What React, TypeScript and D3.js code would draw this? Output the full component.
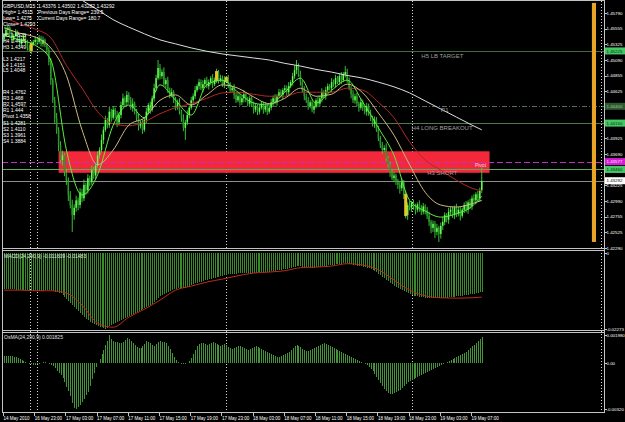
import React from "react";
import * as d3 from "d3";

// ---------------- DATA ----------------
const firstOpen = 1.454;
const closes = [
  1.4546,1.4554,1.4557,1.4548,1.4539,1.4545,1.4551,1.4542,1.4533,1.4539,
  1.4545,1.4536,1.4527,1.4524,1.4533,1.4536,1.4539,1.4536,1.4542,1.4533,
  1.4539,1.4531,1.4524,1.4506,1.4479,1.4449,1.4422,1.4405,1.4382,1.4360,
  1.4367,1.4342,1.4330,1.4308,1.4293,1.4278,1.4289,1.4300,1.4293,1.4312,
  1.4303,1.4323,1.4315,1.4333,1.4327,1.4345,1.4337,1.4352,1.4367,1.4375,
  1.4390,1.4405,1.4420,1.4412,1.4432,1.4423,1.4435,1.4427,1.4416,1.4427,
  1.4442,1.4452,1.4446,1.4457,1.4449,1.4438,1.4444,1.4432,1.4423,1.4411,
  1.4416,1.4405,1.4420,1.4432,1.4442,1.4435,1.4452,1.4467,1.4482,1.4497,
  1.4485,1.4491,1.4473,1.4479,1.4464,1.4457,1.4461,1.4449,1.4440,1.4446,
  1.4432,1.4423,1.4408,1.4416,1.4427,1.4438,1.4449,1.4455,1.4464,1.4470,
  1.4476,1.4467,1.4473,1.4479,1.4470,1.4476,1.4482,1.4473,1.4479,1.4491,
  1.4479,1.4482,1.4473,1.4479,1.4482,1.4472,1.4464,1.4467,1.4457,1.4449,
  1.4455,1.4446,1.4452,1.4458,1.4449,1.4444,1.4452,1.4442,1.4435,1.4440,
  1.4432,1.4438,1.4444,1.4435,1.4440,1.4432,1.4438,1.4446,1.4452,1.4446,
  1.4455,1.4461,1.4457,1.4464,1.4467,1.4461,1.4470,1.4476,1.4485,1.4494,
  1.4500,1.4488,1.4476,1.4464,1.4455,1.4449,1.4440,1.4446,1.4435,1.4440,
  1.4449,1.4444,1.4452,1.4461,1.4455,1.4464,1.4470,1.4467,1.4476,1.4473,
  1.4482,1.4476,1.4485,1.4479,1.4488,1.4491,1.4479,1.4467,1.4458,1.4449,
  1.4455,1.4444,1.4438,1.4446,1.4438,1.4432,1.4440,1.4429,1.4423,1.4414,
  1.4420,1.4405,1.4393,1.4382,1.4375,1.4378,1.4363,1.4353,1.4342,1.4333,
  1.4337,1.4327,1.4323,1.4318,1.4327,1.4308,1.4278,1.4293,1.4289,1.4296,
  1.4291,1.4286,1.4294,1.4289,1.4283,1.4291,1.4286,1.4277,1.4268,1.4259,
  1.4265,1.4253,1.4259,1.4250,1.4262,1.4268,1.4278,1.4271,1.4283,1.4286,
  1.4278,1.4289,1.4280,1.4286,1.4277,1.4286,1.4293,1.4286,1.4297,1.4291,
  1.4303,1.4300,1.4309,1.4303,1.4315,1.4329,
];
const wickUpPips = [
  3,5,4,2,6,3,4,2,5,3, 4,2,3,5,4,3,6,2,4,3, 5,2,3,4,6,3,5,8,4,6, 7,3,5,4,6,8,5,7,4,6,
  5,8,3,6,4,7,5,3,6,4, 8,5,6,3,7,4,5,3,6,4, 5,7,3,6,4,5,8,3,4,6, 3,5,4,6,3,5,4,7,5,12,
  6,4,7,3,5,4,6,3,5,4, 6,3,5,4,7,3,5,4,6,3, 5,4,6,3,5,4,3,6,4,5, 3,5,4,6,3,5,4,3,6,4,
  5,3,4,6,3,5,4,3,5,4, 3,5,4,3,6,4,3,5,4,6, 3,5,4,3,5,4,6,3,5,7, 9,4,5,3,6,4,5,3,4,6,
  3,5,4,6,3,5,4,3,6,4, 5,3,4,6,3,9,5,4,3,6, 4,5,3,6,4,3,5,4,6,3, 5,4,6,3,5,4,7,3,5,4,
  6,3,5,4,6,3,5,4,6,3, 5,4,3,6,4,5,3,4,6,3, 5,4,6,3,5,7,4,3,6,4, 5,3,6,4,5,3,4,6,3,5,
  4,6,3,5,4,20,
];
const wickDnPips = [
  4,3,5,6,3,4,2,5,3,4, 3,5,4,2,6,3,4,5,3,4, 4,3,6,5,7,4,8,6,9,5, 8,6,7,9,5,25,7,6,8,5,
  6,4,7,5,6,4,5,6,3,5, 4,6,3,5,4,6,3,5,7,4, 5,3,6,4,5,3,6,4,5,7, 4,6,3,5,4,6,3,5,4,3,
  5,4,3,6,4,5,3,4,6,5, 4,6,5,18,4,5,3,6,4,3, 5,3,6,4,3,5,4,6,3,4, 5,3,4,6,3,5,4,3,6,4,
  3,5,4,6,3,4,5,3,6,4, 5,4,3,6,4,5,3,4,6,3, 5,3,4,6,3,5,4,3,5,4, 6,4,5,3,6,4,5,3,4,6,
  3,5,4,6,3,5,4,3,6,4, 5,3,4,6,3,5,4,3,6,4, 5,4,6,3,5,4,6,3,5,4, 6,3,5,4,6,3,5,4,7,3,
  5,4,6,8,4,6,5,7,4,6, 5,7,4,6,5,4,7,5,6,8, 6,9,5,12,7,6,5,4,6,5, 4,6,5,4,7,3,5,4,6,4,
  5,3,6,4,5,4,
];
const highlightBars = [14, 109, 114, 206];

const maIdx = [0,8,16,24,32,40,48,56,64,72,80,88,96,104,112,120,128,136,144,152,160,168,176,184,192,200,208,216,224,232,240,245];
const maFast = [1.4546,1.4539,1.4531,1.4509,1.4375,1.4308,1.4338,1.4412,1.4442,1.4423,1.4472,1.4449,1.4427,1.4472,1.4479,1.4461,1.4445,1.4442,1.4461,1.4482,1.4445,1.4464,1.4479,1.4446,1.4408,1.4367,1.4300,1.4284,1.4275,1.4280,1.4291,1.4306];
const maMid = [1.4557,1.4549,1.4543,1.4527,1.4486,1.4405,1.4353,1.4375,1.4412,1.4423,1.4449,1.4457,1.4442,1.4457,1.4472,1.4467,1.4454,1.4444,1.4452,1.4467,1.4455,1.4458,1.4473,1.4460,1.4430,1.4397,1.4353,1.4312,1.4293,1.4290,1.4295,1.4300];
const maSlow = [1.4572,1.4563,1.4555,1.4542,1.4501,1.4467,1.4432,1.4414,1.4411,1.4417,1.4429,1.4438,1.4444,1.4452,1.4460,1.4461,1.4458,1.4455,1.4455,1.4461,1.4461,1.4461,1.4467,1.4464,1.4446,1.4423,1.4387,1.4360,1.4345,1.4330,1.4318,1.4314];
const maLong = [null,null,null,null,1.4616,1.4598,1.4584,1.4569,1.4558,1.4548,1.4539,1.4533,1.4527,1.4522,1.4518,1.4515,1.4512,1.4509,1.4504,1.4500,1.4495,1.4491,1.4486,1.4482,1.4476,1.4469,1.4460,1.4448,1.4436,1.4424,1.4412,1.4405];

const macd = [
  -0.0108,-0.0108,-0.0108,-0.0108,-0.0108,-0.0108,
  -0.0111,-0.0111,-0.0111,-0.0111,-0.0111,-0.0111,-0.0111,
  -0.0113,-0.0113,-0.0113,-0.0113,-0.0113,-0.0113,-0.0113,-0.0113,
  -0.0111,-0.0111,-0.0111,-0.0111,
  -0.0114,-0.0116,-0.0117,-0.0119,-0.0120,
  -0.0126,-0.0132,-0.0138,-0.0144,-0.0150,-0.0156,-0.0162,-0.0168,-0.0174,-0.0180,
  -0.0186,-0.0192,-0.0198,-0.0201,-0.0207,-0.0210,-0.0213,-0.0216,-0.0219,-0.0221,
  -0.0222,-0.0225,-0.0227,-0.0224,-0.0219,-0.0216,-0.0213,-0.0210,-0.0207,-0.0204,
  -0.0201,-0.0198,-0.0195,-0.0192,-0.0189,-0.0186,-0.0183,-0.0180,-0.0177,-0.0174,
  -0.0171,-0.0168,-0.0165,-0.0162,-0.0159,-0.0156,-0.0153,-0.0147,-0.0141,-0.0135,
  -0.0129,-0.0126,-0.0123,-0.0120,-0.0117,-0.0114,-0.0111,-0.0108,-0.0107,-0.0105,
  -0.0104,-0.0104,-0.0104,-0.0104,-0.0102,-0.0099,-0.0096,-0.0093,-0.0090,-0.0089,
  -0.0087,-0.0086,-0.0084,-0.0081,-0.0080,-0.0078,-0.0077,-0.0075,-0.0074,-0.0072,
  -0.0071,-0.0069,-0.0068,-0.0066,-0.0065,-0.0063,-0.0063,-0.0063,-0.0062,-0.0062,
  -0.0060,-0.0060,-0.0060,-0.0059,-0.0059,-0.0059,-0.0059,-0.0059,-0.0059,-0.0059,
  -0.0057,-0.0057,-0.0057,-0.0057,-0.0056,-0.0056,-0.0056,-0.0054,-0.0054,-0.0053,
  -0.0051,-0.0051,-0.0050,-0.0048,-0.0048,-0.0047,-0.0045,-0.0044,-0.0042,-0.0041,
  -0.0039,-0.0039,-0.0039,-0.0041,-0.0042,-0.0042,-0.0042,-0.0044,-0.0044,-0.0044,
  -0.0042,-0.0042,-0.0041,-0.0039,-0.0039,-0.0038,-0.0036,-0.0036,-0.0035,-0.0035,
  -0.0033,-0.0033,-0.0032,-0.0032,-0.0030,-0.0030,-0.0030,-0.0032,-0.0033,-0.0035,
  -0.0036,-0.0038,-0.0039,-0.0039,-0.0041,-0.0042,-0.0044,-0.0045,-0.0048,-0.0051,
  -0.0054,-0.0057,-0.0062,-0.0066,-0.0071,-0.0075,-0.0080,-0.0084,-0.0089,-0.0093,
  -0.0098,-0.0101,-0.0104,-0.0107,-0.0110,-0.0113,-0.0117,-0.0120,-0.0123,-0.0126,
  -0.0128,-0.0128,-0.0129,-0.0131,-0.0132,-0.0132,-0.0134,-0.0134,-0.0135,-0.0135,
  -0.0135,-0.0135,-0.0135,-0.0135,-0.0135,-0.0135,-0.0134,-0.0134,-0.0132,-0.0132,
  -0.0131,-0.0131,-0.0129,-0.0129,-0.0128,-0.0128,-0.0126,-0.0126,-0.0125,-0.0123,
  -0.0123,-0.0122,-0.0120,-0.0119,-0.0117,-0.0116,
];
const macdSignal = [-0.0111,-0.0111,-0.0113,-0.0113,-0.0120,-0.0156,-0.0210,-0.0222,-0.0192,-0.0168,-0.0141,-0.0111,-0.0099,-0.0087,-0.0078,-0.0068,-0.0060,-0.0057,-0.0053,-0.0044,-0.0042,-0.0039,-0.0032,-0.0036,-0.0050,-0.0081,-0.0111,-0.0128,-0.0134,-0.0135,-0.0134,-0.0132];

const osma = [
  0.00053,0.00053,0.00049,0.00049,0.00049,0.00046,0.00042,
  0.00035,0.00028,0.00021,0.00014,
  0.00007,0,-0.00007,-0.00007,-0.00011,-0.00011,-0.00007,-0.00007,0,0.00007,0.00007,0.00004,
  -0.00007,-0.00014,-0.00021,-0.00035,-0.00056,-0.0007,-0.00084,
  -0.00105,-0.00133,-0.00168,-0.00196,
  -0.00231,-0.0028,-0.00315,-0.0032,-0.00308,-0.00294,-0.00273,-0.00252,-0.00224,-0.00203,-0.00161,-0.00112,-0.0007,-0.00028,0,
  0.00028,0.00063,0.00091,0.00126,0.00154,0.00198,0.00168,0.00154,0.00147,0.00147,0.0014,0.0014,
  0.00147,0.00161,0.00175,0.00168,0.00154,0.0014,0.00126,0.00112,0.00105,0.00105,0.00119,0.00133,0.00154,0.00147,0.0014,
  0.00126,0.00119,0.00133,0.00147,0.00154,0.00147,0.00147,0.0014,0.00119,0.00098,0.0007,0.00042,0.00021,0.00007,0,
  -0.00007,-0.00007,-0.00007,0,0.00014,0.00035,0.00063,0.00091,0.00119,0.00133,
  0.0014,0.0014,0.00133,0.00126,0.00133,0.0014,0.00147,0.0014,0.00133,0.00126,0.00119,0.00126,0.00133,0.00126,0.00112,0.00105,0.00098,0.00105,0.00112,0.00119,
  0.00119,0.00112,0.00105,0.00098,0.00091,0.00098,0.00105,0.00112,0.00119,0.00112,0.00105,0.00098,0.00091,0.00084,0.00077,0.0007,0.00063,0.00056,0.00049,0.00042,0.00042,0.00049,0.00056,0.00063,0.0007,
  0.00077,0.00091,0.00105,0.00119,0.00126,0.00119,0.00112,0.00098,0.00091,0.00084,0.00084,0.00091,0.00098,0.00105,0.00112,0.00119,0.00126,0.00133,0.0014,0.00133,0.00126,0.00119,0.00112,0.00105,0.00098,
  0.00091,0.00084,0.00077,0.0007,0.00063,0.00056,0.00049,0.00042,0.00035,0.00028,0.00021,0.00014,0.00007,0,-0.00007,
  -0.00014,-0.00028,-0.00042,-0.00056,-0.00077,-0.00098,-0.00119,-0.0014,-0.00161,-0.00182,-0.00196,-0.0021,-0.00217,-0.00217,-0.0021,-0.00203,-0.00196,-0.00189,-0.00175,-0.00161,
  -0.00147,-0.00133,-0.00126,-0.00119,-0.00112,-0.00105,-0.00098,-0.00091,-0.00084,-0.00077,-0.0007,-0.00063,-0.00056,-0.00049,-0.00042,-0.00035,-0.00028,-0.00021,-0.00014,-0.00007,
  0,0.00007,0.00014,0.00021,0.00028,0.00035,0.00042,0.00049,0.00056,0.00063,0.0007,0.00077,0.00091,0.00105,0.00119,0.00126,0.0014,0.00154,0.00168,0.001825,
];

const timeLabels = ["14 May 2010","16 May 23:00","17 May 03:00","17 May 07:00","17 May 11:00","17 May 15:00","17 May 19:00","17 May 23:00","18 May 03:00","18 May 07:00","18 May 11:00","18 May 15:00","18 May 19:00","18 May 23:00","19 May 03:00","19 May 07:00"];
const timeLabelIdx = [0,16,32,48,64,80,96,112,128,144,160,176,192,208,224,240];
const priceTicks = [1.4579,1.45555,1.45325,1.4509,1.44855,1.44625,1.4439,1.44155,1.43925,1.4369,1.4346,1.43225,1.4299,1.42755,1.42525,1.4229];
const separatorIdx = [13.3, 17, 114, 209.2, 306.2];

const zoneIdx = [28, 249];
const zonePrices = [1.4373, 1.4341];
const rangeBarIdx = [301.5, 303.6];
const rangeBarPrices = [1.4594, 1.4238];

const levelPrices = [1.45225, 1.444, 1.4415, 1.43577, 1.4346];
const levelNames = ["H5 LB TARGET", "R1", "H4 LONG BREAKOUT", "Pivot", "H3 SHORT"];
const levelLabelIdx = [214, 224, 209, 241.5, 217];
const bidPrice = 1.43292;

const infoLeft = ["GBPUSD,M15", "High= 1.4515", "Low= 1.4275", "Close= 1.4293"];
const infoRight = ["1.43376 1.43502 1.43282 1.43292", "Previous Days Range= 239.5", "Current Days Range= 180.7"];
const camHigh = ["H5 1.4523", "H4 1.4415", "H3 1.4349"];
const camLow = ["L3 1.4217", "L4 1.4151", "L5 1.4048"];
const pivots = ["R4 1.4762", "R3 1.468", "R2 1.4597", "R1 1.444", "Pivot 1.4358", "S1 1.4281", "S2 1.4110", "S3 1.3961", "S4 1.3884"];

const macdTitle = "MACD(24,290,9) -0.011609 -0.01483";
const osmaTitle = "OsMA(24,290,9) 0.001825";
const macdAxis = [0, -0.02273];
const macdAxisText = ["0", "-0.02273"];
const osmaAxis = [0.00198, 0, -0.0032];
const osmaAxisText = ["0.001980", "0.00", "-0.00320"];

// ---------------- CHART ----------------
const PIP = 0.0001;
const FONT = "'Liberation Sans', Arial, sans-serif";

export default function App() {
  const L = 2, R = 604;
  const x = d3.scaleLinear().domain([0, 240]).range([4, 472]);
  const yMain = d3.scaleLinear().domain([1.4229, 1.4579]).range([248, 13]);
  const yMacd = d3.scaleLinear().domain([-0.02273, 0]).range([329, 253]);
  const yOsma = d3.scaleLinear().domain([-0.0032, 0.00198]).range([409, 335]);

  const candles = closes.map((c, i) => {
    const o = i === 0 ? firstOpen : closes[i - 1];
    return { i, o, c, hi: Math.max(o, c) + wickUpPips[i] * PIP, lo: Math.min(o, c) - wickDnPips[i] * PIP };
  });

  type P = { i: number; v: number };
  const series = (vals: (number | null)[]): P[] =>
    maIdx.map((i, k) => ({ i, v: vals[k] as number })).filter((d) => d.v != null);
  const mainLine = d3.line<P>().x((d) => x(d.i)).y((d) => yMain(d.v)).curve(d3.curveMonotoneX);
  const sigLine = d3.line<P>().x((d) => x(d.i)).y((d) => yMacd(d.v)).curve(d3.curveMonotoneX);

  const levelStyle = [
    { stroke: "#3d6e3d", dash: undefined, text: "#9c9c9c", dy: 7, fs: 6 },
    { stroke: "#566f56", dash: "5,2,1,2", text: "#9a9a9a", dy: 6, fs: 6 },
    { stroke: "#4b7d4b", dash: undefined, text: "#a2a2a2", dy: 7, fs: 6 },
    { stroke: "#c030c8", dash: "6,3", text: "#ffd6e6", dy: 5, fs: 5 },
    { stroke: "#5fa85f", dash: undefined, text: "#b09898", dy: 6, fs: 6 },
  ];

  const axisHighlights = [
    { v: 1.45225, bg: "#44c864", fg: "#0a2a0a" },
    { v: 1.444, bg: "#2f5a2f", fg: "#9fc09f" },
    { v: 1.4415, bg: "#44c864", fg: "#0a2a0a" },
    { v: 1.43577, bg: "#d41cd4", fg: "#ffe0ff" },
    { v: 1.4346, bg: "#44c864", fg: "#0a2a0a" },
    { v: bidPrice, bg: "#ffffff", fg: "#000000" },
  ];

  const frame = "#c4c4c4";
  const AX_FS = 4.4;
  const txt = (s: string, xx: number, yy: number, fs: number, fill = "#ffffff", key?: any) => (
    <text key={key ?? s + xx + yy} x={xx} y={yy} fontSize={fs} fill={fill}>{s}</text>
  );

  return (
    <svg width={625} height={422} style={{ position: "absolute", left: 0, top: 0, display: "block", background: "#000" }} fontFamily={FONT}>
      <rect x={0} y={0} width={625} height={422} fill="#000" />
      <defs>
        <clipPath id="mainClip"><rect x={L + 1} y={1} width={R - L - 1} height={247} /></clipPath>
        <clipPath id="macdClip"><rect x={L + 1} y={251} width={R - L - 1} height={79} /></clipPath>
        <clipPath id="osmaClip"><rect x={L + 1} y={333} width={R - L - 1} height={79} /></clipPath>
      </defs>

      {/* separators */}
      {separatorIdx.map((s, k) => (
        <line key={"sep" + k} x1={Math.round(x(s)) + 0.5} x2={Math.round(x(s)) + 0.5} y1={1} y2={412} stroke="#d8d8d8" strokeDasharray="1,2" strokeWidth={1} />
      ))}

      {/* MAIN PANEL */}
      <g clipPath="url(#mainClip)">
        <rect x={x(zoneIdx[0])} y={yMain(zonePrices[0])} width={x(zoneIdx[1]) - x(zoneIdx[0])} height={yMain(zonePrices[1]) - yMain(zonePrices[0])} fill="#f3283a" />
        {levelPrices.map((p, k) => (
          <line key={"lvl" + k} x1={L} x2={R} y1={Math.round(yMain(p)) + 0.5} y2={Math.round(yMain(p)) + 0.5} stroke={levelStyle[k].stroke} strokeDasharray={levelStyle[k].dash} strokeWidth={1} />
        ))}
        <line x1={L} x2={R} y1={Math.round(yMain(bidPrice)) + 0.5} y2={Math.round(yMain(bidPrice)) + 0.5} stroke="#8c8c8c" strokeWidth={1} />

        {/* candles */}
        <g>
          {candles.map((d) => {
            const cx = x(d.i);
            const yt = yMain(Math.max(d.o, d.c));
            const yb = yMain(Math.min(d.o, d.c));
            const bull = d.c >= d.o;
            return (
              <g key={"c" + d.i}>
                <line x1={cx} x2={cx} y1={yMain(d.hi)} y2={yMain(d.lo)} stroke="#3bd63b" strokeWidth={0.9} />
                <rect x={cx - 0.75} y={yt} width={1.5} height={Math.max(1, yb - yt)} fill={bull ? "#62ff52" : "#2c962c"} />
              </g>
            );
          })}
        </g>
        {highlightBars.map((i) => {
          const d = candles[i];
          const yt = yMain(Math.max(d.o, d.c)) - 1;
          const yb = yMain(Math.min(d.o, d.c)) + 1;
          return <rect key={"hl" + i} x={x(i) - 1.5} y={yt} width={3} height={Math.max(5, yb - yt)} fill="#e6c42a" />;
        })}

        {/* moving averages */}
        <path d={mainLine(series(maLong)) || ""} fill="none" stroke="#dedede" strokeWidth={1} />
        <path d={mainLine(series(maSlow)) || ""} fill="none" stroke="#b02a26" strokeWidth={1} />
        <path d={mainLine(series(maMid)) || ""} fill="none" stroke="#cdbb7e" strokeWidth={1} />
        <path d={mainLine(series(maFast)) || ""} fill="none" stroke="#5cf03c" strokeWidth={1} />

        {/* orange range bar */}
        <rect x={x(rangeBarIdx[0])} y={yMain(rangeBarPrices[0])} width={x(rangeBarIdx[1]) - x(rangeBarIdx[0])} height={yMain(rangeBarPrices[1]) - yMain(rangeBarPrices[0])} fill="#e8a426" />

        {/* level labels */}
        {levelNames.map((n, k) => txt(n, x(levelLabelIdx[k]), Math.round(yMain(levelPrices[k])) + levelStyle[k].dy, levelStyle[k].fs, levelStyle[k].text, "ln" + k))}

        {/* info texts */}
        {infoLeft.map((s, k) => txt(s, 3, 8 + k * 6, 5, "#ffffff", "il" + k))}
        {infoRight.map((s, k) => txt(s, 38, 8 + k * 6, 5, "#ffffff", "ir" + k))}
        {camHigh.map((s, k) => txt(s, 3, 37 + k * 6, 5, "#ffffff", "ch" + k))}
        {camLow.map((s, k) => txt(s, 3, 61 + k * 5.6, 5, "#ffffff", "cl" + k))}
        {pivots.map((s, k) => txt(s, 3, 94 + k * 6.1, 5, "#ffffff", "pv" + k))}
      </g>

      {/* MACD PANEL */}
      <g clipPath="url(#macdClip)" shapeRendering="crispEdges">
        {macd.map((v, i) => (
          <rect key={"m" + i} x={Math.round(x(i))} y={yMacd(0)} width={1} height={yMacd(v) - yMacd(0)} fill="#3a8a2c" />
        ))}
      </g>
      <g clipPath="url(#macdClip)">
        <path d={sigLine(maIdx.map((i, k) => ({ i, v: macdSignal[k] }))) || ""} fill="none" stroke="#c02a1c" strokeWidth={1} />
      </g>
      {txt(macdTitle, 4, 258, 5, "#e0e0e0", "mt")}

      {/* OsMA PANEL */}
      <g clipPath="url(#osmaClip)" shapeRendering="crispEdges">
        {osma.map((v, i) => {
          const y0 = yOsma(0), y1 = yOsma(v);
          return <rect key={"o" + i} x={Math.round(x(i))} y={Math.min(y0, y1)} width={1} height={Math.max(0.01, Math.abs(y1 - y0))} fill="#44943a" />;
        })}
      </g>
      {txt(osmaTitle, 4, 339, 5, "#e0e0e0", "ot")}

      {/* frames */}
      <g fill="none" stroke={frame} strokeWidth={1} shapeRendering="crispEdges">
        <line x1={L + 0.5} x2={L + 0.5} y1={0} y2={413} />
        <line x1={R + 0.5} x2={R + 0.5} y1={0} y2={413} />
        <line x1={L} x2={R + 1} y1={0.5} y2={0.5} />
        <line x1={L} x2={R + 1} y1={248.5} y2={248.5} />
        <line x1={L} x2={R + 1} y1={250.5} y2={250.5} />
        <line x1={L} x2={R + 1} y1={330.5} y2={330.5} />
        <line x1={L} x2={R + 1} y1={332.5} y2={332.5} />
        <line x1={L} x2={R + 1} y1={412.5} y2={412.5} />
      </g>

      {/* right price axis */}
      {priceTicks.map((p, k) => (
        <g key={"pt" + k}>
          <line x1={R} x2={R + 3} y1={Math.round(yMain(p)) + 0.5} y2={Math.round(yMain(p)) + 0.5} stroke={frame} />
          {txt(p.toFixed(5), 606.5, yMain(p) + 1.6, AX_FS, "#ffffff", "ptt" + k)}
        </g>
      ))}
      {axisHighlights.map((h, k) => {
        const yy = yMain(h.v);
        return (
          <g key={"ah" + k}>
            <rect x={605} y={yy - 3.5} width={20} height={7} fill={h.bg} />
            {txt(h.v.toFixed(5), 606.5, yy + 1.6, AX_FS, h.fg, "aht" + k)}
          </g>
        );
      })}
      {macdAxis.map((v, k) => (
        <g key={"ma" + k}>
          <line x1={R} x2={R + 3} y1={Math.round(yMacd(v)) + 0.5} y2={Math.round(yMacd(v)) + 0.5} stroke={frame} />
          {txt(macdAxisText[k], 606.5, yMacd(v) + 1.6, AX_FS, "#ffffff", "mat" + k)}
        </g>
      ))}
      {osmaAxis.map((v, k) => (
        <g key={"oa" + k}>
          <line x1={R} x2={R + 3} y1={Math.round(yOsma(v)) + 0.5} y2={Math.round(yOsma(v)) + 0.5} stroke={frame} />
          {txt(osmaAxisText[k], 606.5, yOsma(v) + 1.6, AX_FS, "#ffffff", "oat" + k)}
        </g>
      ))}

      {/* time axis */}
      {timeLabelIdx.map((i, k) => (
        <g key={"tl" + k}>
          <line x1={Math.round(x(i)) - 0.5} x2={Math.round(x(i)) - 0.5} y1={413} y2={416} stroke={frame} />
          {txt(timeLabels[k], x(i) - 0.5, 420, 4.5, "#ffffff", "tlt" + k)}
        </g>
      ))}
    </svg>
  );
}
